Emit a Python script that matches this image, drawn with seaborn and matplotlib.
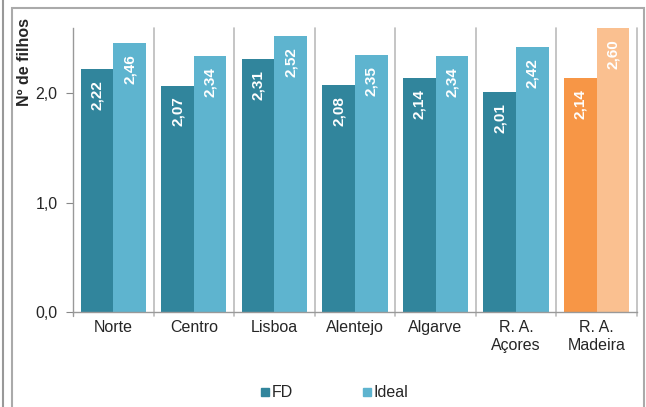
import seaborn as sns
import matplotlib.pyplot as plt
import pandas as pd
from matplotlib.patches import Rectangle
from matplotlib.lines import Line2D

regioes = ["Norte", "Centro", "Lisboa", "Alentejo", "Algarve", "R. A.\nAçores", "R. A.\nMadeira"]
fd = [2.22, 2.07, 2.31, 2.08, 2.14, 2.01, 2.14]
ideal = [2.46, 2.34, 2.52, 2.35, 2.34, 2.42, 2.60]
series = ["FD", "Ideal"]
cores = {"FD": "#31859C", "Ideal": "#5EB4CF"}
cores_madeira = {"FD": "#F79646", "Ideal": "#FAC090"}

df = pd.DataFrame({"regiao": regioes * 2,
                   "serie": ["FD"] * len(regioes) + ["Ideal"] * len(regioes),
                   "valor": fd + ideal})

sns.set_style("white")
plt.rcParams["font.family"] = ["Liberation Sans", "DejaVu Sans"]

fig = plt.figure(figsize=(6.46, 4.07), dpi=100)
ax = fig.add_axes([0.113, 0.2334, 0.873, 0.6986])

sns.barplot(data=df, x="regiao", y="valor", hue="serie", palette=cores,
            width=0.81, saturation=1, linewidth=0, ax=ax, legend=False)

# colours for Madeira + value labels
for cont, s in zip(ax.containers, series):
    for i, bar in enumerate(cont):
        if regioes[i].endswith("Madeira"):
            bar.set_facecolor(cores_madeira[s])
        v = bar.get_height()
        ax.annotate(("%.2f" % v).replace(".", ","),
                    (bar.get_x() + bar.get_width() / 2, v),
                    xytext=(0, -8), textcoords="offset points",
                    rotation=90, ha="center", va="top",
                    color="white", fontsize=11, fontweight="bold")

ax.set_ylim(0, 2.6)
ax.set_xlim(-0.5, len(regioes) - 0.5)
ax.set_yticks([0, 1, 2])
ax.set_yticklabels(["0,0", "1,0", "2,0"], fontsize=11.5)
ax.tick_params(axis="y", length=5, color="#888888", pad=6, left=True)
ax.tick_params(axis="x", length=0, labelsize=11.5, pad=6)
ax.set_xlabel("")
ax.set_ylabel("Nº de filhos", fontsize=11.5, fontweight="bold")
ax.yaxis.set_label_coords(-0.073, 0.88)

for sp in ["top", "right"]:
    ax.spines[sp].set_visible(False)
for sp in ["left", "bottom"]:
    ax.spines[sp].set_color("#999999")
    ax.spines[sp].set_linewidth(1)

# category separators
for k in range(1, len(regioes) + 1):
    ax.plot([k - 0.5, k - 0.5], [-0.04, 2.6], color="#BBBBBB", lw=1.2,
            clip_on=False, zorder=0)
ax.plot([-0.5, -0.5], [-0.04, 0], color="#999999", lw=1, clip_on=False)

# legend
handles = [Line2D([], [], marker="s", ls="", markersize=6,
                  color=cores[s]) for s in series]
fig.legend(handles, series, loc="center", bbox_to_anchor=(0.516, 0.035),
           ncol=2, frameon=False, fontsize=11.5, handletextpad=0.05,
           columnspacing=4.2, handlelength=0.8)

# chart frame
fig.patches.append(Rectangle((12 / 646, -0.05), 632 / 646, 1.05 - 8 / 407,
                             transform=fig.transFigure, fill=False,
                             edgecolor="#AAAAAA", lw=1.5))
fig.add_artist(Line2D([3 / 646, 3 / 646], [0, 1], color="#999999", lw=1.5,
                      transform=fig.transFigure))

fig.savefig("out.png", dpi=100)
